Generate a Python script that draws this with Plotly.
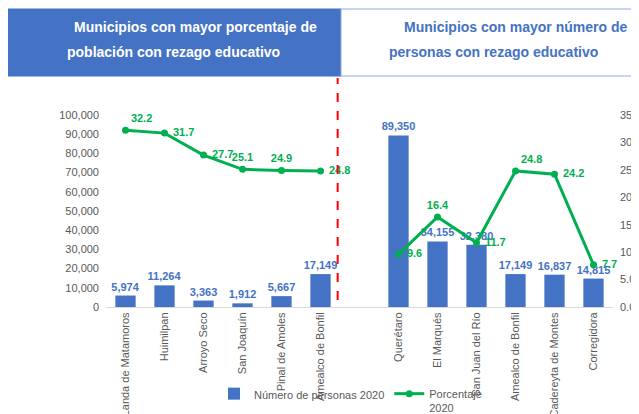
import plotly.graph_objects as go

# ---- data ----
categories_left = ["Landa de Matamoros", "Huimilpan", "Arroyo Seco", "San Joaquín",
                   "Pinal de Amoles", "Amealco de Bonfil"]
personas_left = [5974, 11264, 3363, 1912, 5667, 17149]
pct_left = [32.2, 31.7, 27.7, 25.1, 24.9, 24.8]

categories_right = ["Querétaro", "El Marqués", "San Juan del Río", "Amealco de Bonfil",
                    "Cadereyta de Montes", "Corregidora"]
personas_right = [89350, 34155, 32380, 17149, 16837, 14815]
pct_right = [9.6, 16.4, 11.7, 24.8, 24.2, 7.7]

pos_left = ["top right", "middle right", "middle right", "top center", "top center", "middle right"]
pos_right = ["middle right", "top center", "middle right", "top right", "middle right", "middle right"]

left_ticks = [0, 10000, 20000, 30000, 40000, 50000, 60000, 70000, 80000, 90000, 100000]
right_ticks = [0, 5, 10, 15, 20, 25, 30, 35]

title_left = ["Municipios con mayor porcentaje de", "población con rezago educativo"]
title_right = ["Municipios con mayor número de", "personas con rezago educativo"]

# combined with a blank gap slot between the two groups
labels = categories_left + [""] + categories_right
xs = list(range(len(labels)))
personas = personas_left + [None] + personas_right
pct = pct_left + [None] + pct_right
pct_pos = pos_left + ["middle right"] + pos_right
gap_x = len(categories_left)

BLUE = "#4472C4"
GREEN = "#00B050"
GRAY = "#595959"
FONT = "Liberation Sans, Arial, sans-serif"
NB = "\u00a0"

pct_text = []
for v, p in zip(pct, pct_pos):
    if v is None:
        pct_text.append("")
    elif p == "middle right":
        pct_text.append(f"<b>{NB}{v:.1f}</b>")
    else:
        pct_text.append(f"<b>{v:.1f}</b>")

fig = go.Figure()
fig.add_trace(go.Bar(
    x=xs, y=personas, name="Número de personas 2020",
    marker=dict(color=BLUE, line=dict(width=0)),
    texttemplate="<b>%{y:,}</b>", textposition="outside", constraintext="none",
    textfont=dict(color=BLUE, size=11, family=FONT),
    cliponaxis=False, yaxis="y",
))
fig.add_trace(go.Scatter(
    x=xs, y=pct, name="Porcentaje<br>2020", mode="lines+markers+text",
    line=dict(color=GREEN, width=3), marker=dict(color=GREEN, size=7),
    text=pct_text,
    textposition=pct_pos, textfont=dict(color=GREEN, size=11, family=FONT),
    connectgaps=False, cliponaxis=False, yaxis="y2",
))

# page body adds an 8px offset; layout below is expressed in window pixels
OFF = 8
W, H = 639, 414
PL, PR, PT, PB = 106, 613, 115, 307  # plot area in window pixels
L, T = PL - OFF, PT - OFF
R, B = W - (PR - OFF), H - (PB - OFF)
pw, ph = PR - PL, PB - PT


def px(xp):
    return (xp - PL) / pw


def py(yp):
    return (PB - yp) / ph


shapes = [
    dict(type="rect", xref="paper", yref="paper", x0=px(7), x1=px(341), y0=py(76), y1=py(9),
         fillcolor=BLUE, line=dict(color=BLUE, width=1), layer="above"),
    dict(type="rect", xref="paper", yref="paper", x0=px(341), x1=px(650), y0=py(76), y1=py(9),
         fillcolor="white", line=dict(color="#8FAADC", width=1), layer="above"),
    dict(type="line", xref="x", yref="paper", x0=gap_x - 0.56, x1=gap_x - 0.56,
         y0=py(300), y1=py(78), line=dict(color="#FF0000", width=2, dash="dash")),
]

annotations = [
    dict(text=f"<b>{title_left[0]}</b>", xref="paper", yref="paper", x=px(72), y=py(27),
         xanchor="left", yanchor="middle", showarrow=False, font=dict(color="white", size=14, family=FONT)),
    dict(text=f"<b>{title_left[1]}</b>", xref="paper", yref="paper", x=px(65), y=py(52),
         xanchor="left", yanchor="middle", showarrow=False, font=dict(color="white", size=14, family=FONT)),
    dict(text=f"<b>{title_right[0]}</b>", xref="paper", yref="paper", x=px(402), y=py(27),
         xanchor="left", yanchor="middle", showarrow=False, font=dict(color=BLUE, size=14, family=FONT)),
    dict(text=f"<b>{title_right[1]}</b>", xref="paper", yref="paper", x=px(387), y=py(52),
         xanchor="left", yanchor="middle", showarrow=False, font=dict(color=BLUE, size=14, family=FONT)),
]

fig.update_layout(
    width=W, height=H, margin=dict(l=L, r=R, t=T, b=B, autoexpand=False),
    paper_bgcolor="white", plot_bgcolor="white",
    font=dict(family=FONT, size=11, color=GRAY),
    bargap=0.48,
    showlegend=True,
    legend=dict(orientation="h", x=px(214), y=py(380), xanchor="left", yanchor="top",
                bgcolor="rgba(0,0,0,0)", font=dict(size=11, color=GRAY, family=FONT),
                valign="top", traceorder="normal"),
    xaxis=dict(tickmode="array", tickvals=xs, ticktext=labels, tickangle=-90,
               range=[-0.5, len(labels) - 0.5], showgrid=False, zeroline=False,
               showline=True, linecolor="#D9D9D9", linewidth=1, ticks="",
               automargin=False, tickfont=dict(size=11, color=GRAY, family=FONT)),
    yaxis=dict(range=[0, 100000], tickvals=left_ticks, tickformat=",d", showgrid=False,
               zeroline=False, showline=False, ticks="", ticklabelstandoff=6,
               automargin=False, tickfont=dict(size=11, color=GRAY, family=FONT)),
    yaxis2=dict(range=[0, 35], tickvals=right_ticks, tickformat=".1f", overlaying="y",
                side="right", showgrid=False, zeroline=False, showline=False, ticks="",
                automargin=False, ticklabelstandoff=6,
                tickfont=dict(size=11, color=GRAY, family=FONT)),
    shapes=shapes,
    annotations=annotations,
)

fig.write_html("out.html")
